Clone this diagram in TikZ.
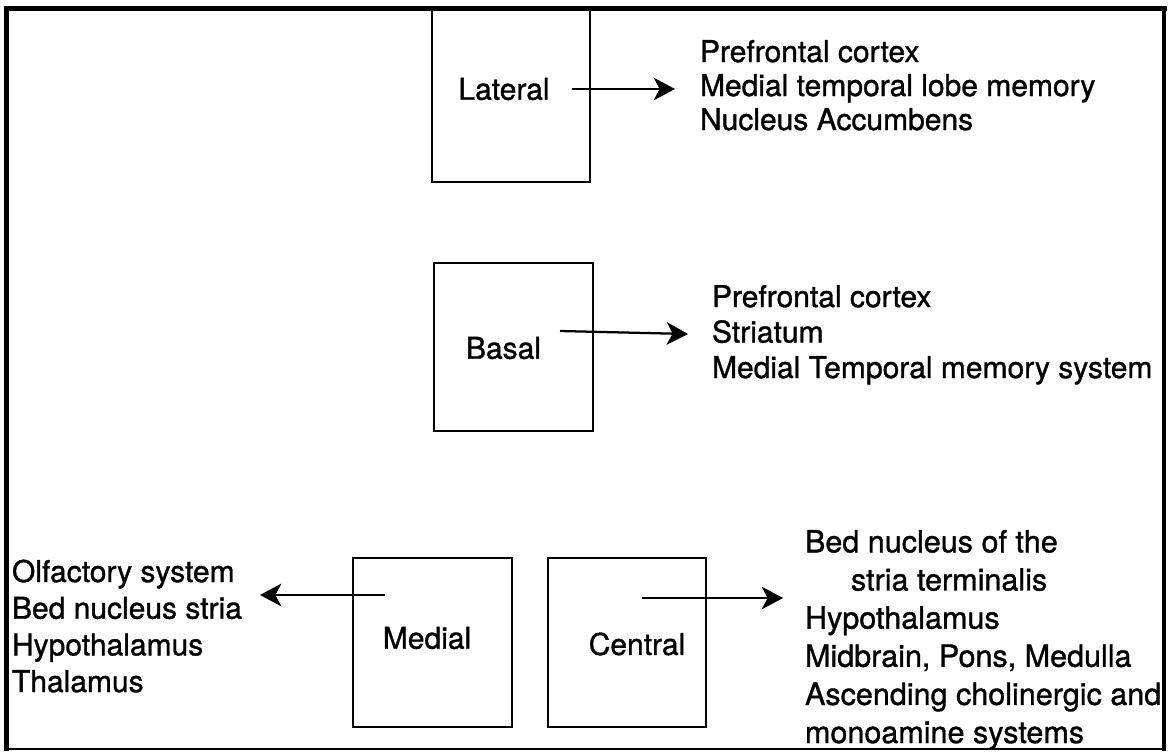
\documentclass[tikz,border=0pt]{standalone}
\usepackage{fontspec}
\setmainfont{TeX Gyre Heros}[FakeBold=1.1]
\usetikzlibrary{arrows.meta}
\begin{document}
\begin{tikzpicture}[x=0.75pt,y=-0.75pt,
  box/.style={draw, line width=1.7pt, inner sep=0pt, outer sep=0pt},
  lbl/.style={font=\fontsize{22.5}{27}\selectfont, inner sep=0pt},
  list/.style={align=left, inner sep=0pt, outer sep=0pt, anchor=base west},
  arr/.style={line width=1.7pt, -{Stealth[length=16pt,width=17pt,inset=4.5pt]}},
  frame/.style={line cap=rect}]
\useasboundingbox (0,0) rectangle (1173,751);
% boxes
\node[box, minimum width=118.5pt, minimum height=129pt,
  label={[lbl,xshift=-5.25pt,yshift=5.25pt]center:Lateral}] (lat) at (511,96) {};
\node[box, minimum width=119.25pt, minimum height=126pt,
  label={[lbl,xshift=-7.5pt,yshift=-0.75pt]center:Basal}] (bas) at (513.5,347) {};
\node[box, minimum width=119.25pt, minimum height=126.75pt,
  label={[lbl,xshift=-4.1pt,yshift=3.4pt]center:Medial}] (med) at (432.5,642.5) {};
\node[box, minimum width=118.5pt, minimum height=126.75pt,
  label={[lbl,xshift=7.5pt,yshift=-1.1pt]center:Central}] (cen) at (627,642.5) {};
% target lists (anchored at the baseline of the last line)
\node[list, font=\fontsize{22.5}{25.5}\selectfont] (latL) at (700,130)
  {Prefrontal cortex\\Medial temporal lobe memory\\Nucleus Accumbens};
\node[list, font=\fontsize{22.5}{26.6}\selectfont] (basL) at (712,378)
  {Prefrontal cortex\\Striatum\\Medial Temporal memory system};
\node[list, font=\fontsize{22.5}{27.5}\selectfont] (medL) at (12,692)
  {Olfactory system\\Bed nucleus stria\\Hypothalamus\\Thalamus};
\node[list, font=\fontsize{22.9}{28.6}\selectfont] (cenL) at (805,743)
  {Bed nucleus of the\\\hspace*{34.5pt}stria terminalis\\Hypothalamus\\Midbrain, Pons, Medulla\\Ascending cholinergic and\\monoamine systems};
% arrow ends
\coordinate (latS) at (572,89);  \coordinate (latE) at (675,89);
\coordinate (basS) at (560,331); \coordinate (basE) at (688,334);
\coordinate (medS) at (385,595); \coordinate (medE) at (260,595);
\coordinate (cenS) at (642,598); \coordinate (cenE) at (783,598);
\draw[arr] (latS) -- (latE);
\draw[arr] (basS) -- (basE);
\draw[arr] (medS) -- (medE);
\draw[arr] (cenS) -- (cenE);
% outer frame
\draw[frame, line width=3.75pt] (6.5,8.5) -- (1164,8.5);
\draw[frame, line width=3.75pt] (6.5,8.5) -- (6.5,748.5);
\draw[frame, line width=3pt] (1164,8.5) -- (1164,748.5);
\draw[line width=1.5pt] (6.5,748.5) -- (1164,748.5);
\end{tikzpicture}
\end{document}
